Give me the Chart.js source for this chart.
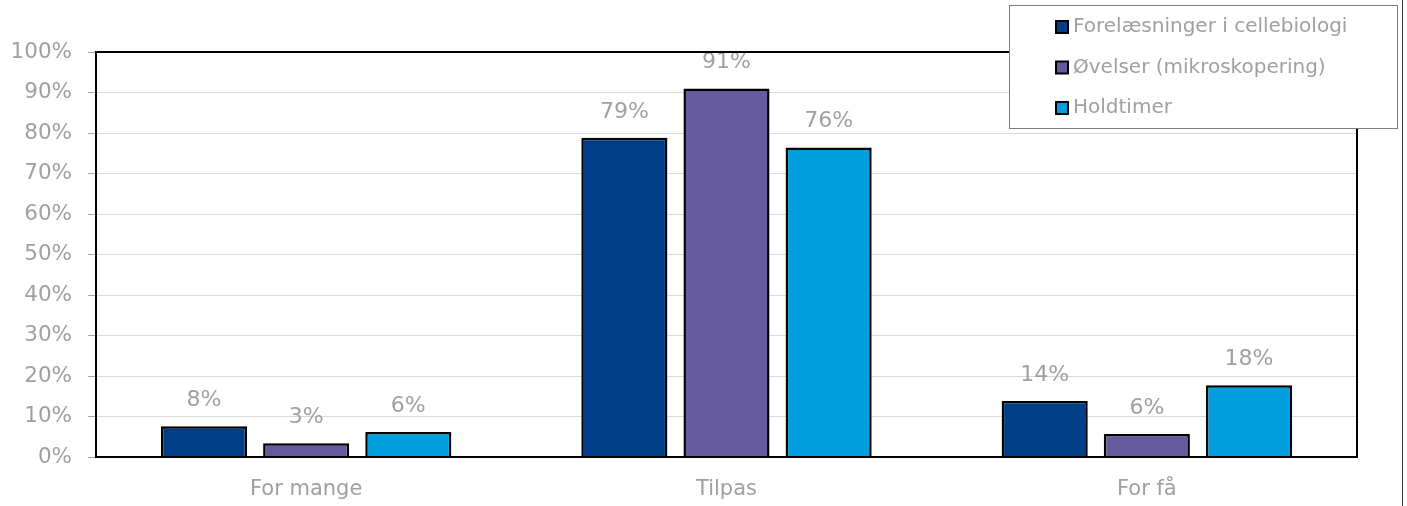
<!DOCTYPE html>
<html>
<head>
<meta charset="utf-8">
<script src="https://cdn.jsdelivr.net/npm/chart.js@4/dist/chart.umd.min.js"></script>
<style>
  html, body { margin: 0; padding: 0; background: #fff; }
  #wrap { width: 1407px; height: 506px; }
</style>
</head>
<body>
<div id="wrap"><canvas id="barCanvas"></canvas></div>
<script>
const barCanvas = document.getElementById("barCanvas");

var categories = ["For mange", "Tilpas", "For få"];
var seriesNames = ["Forelæsninger i cellebiologi", "Øvelser (mikroskopering)", "Holdtimer"];
var forelaesninger = [7.6, 78.8, 13.8];
var oevelser = [3.4, 91.0, 5.7];
var holdtimer = [6.2, 76.4, 17.7];
var yTicks = [0, 10, 20, 30, 40, 50, 60, 70, 80, 90, 100];

var barColors = ["#003F87", "#665A9E", "#009EDF"];
var textGray = "#a0a0a0";
var fontName = "'DejaVu Sans', sans-serif";

// value labels above bars, frame around plot, legend box on top
var extras = {
  id: "extras",
  afterDatasetsDraw(chart) {
    const ctx = chart.ctx;
    ctx.save();
    ctx.font = "22px " + fontName;
    ctx.fillStyle = textGray;
    ctx.textAlign = "center";
    ctx.textBaseline = "middle";
    chart.data.datasets.forEach((ds, i) => {
      chart.getDatasetMeta(i).data.forEach((bar, j) => {
        ctx.fillText(Math.round(ds.data[j]) + "%", bar.x, bar.y - 26);
      });
    });
    const a = chart.chartArea;
    ctx.strokeStyle = "#000";
    ctx.lineWidth = 2;
    ctx.strokeRect(a.left, a.top, a.right - a.left, a.bottom - a.top);
    ctx.restore();
  },
  afterDraw(chart) {
    const ctx = chart.ctx;
    ctx.save();
    // outer frame edge on the right
    ctx.strokeStyle = "#333";
    ctx.lineWidth = 1;
    ctx.beginPath();
    ctx.moveTo(1402.5, 0);
    ctx.lineTo(1402.5, 506);
    ctx.stroke();

    ctx.fillStyle = "#fff";
    ctx.fillRect(1009, 5, 388, 124);
    ctx.strokeStyle = "#7f7f7f";
    ctx.strokeRect(1009.5, 5.5, 388, 123);
    ctx.font = "20px " + fontName;
    ctx.textBaseline = "middle";
    ctx.textAlign = "left";
    chart.data.datasets.forEach((ds, i) => {
      const y = 27 + i * 40.5;
      ctx.fillStyle = ds.backgroundColor;
      ctx.fillRect(1056, y - 6, 12, 12);
      ctx.strokeStyle = "#000";
      ctx.lineWidth = 2;
      ctx.strokeRect(1056, y - 6, 12, 12);
      ctx.fillStyle = textGray;
      ctx.fillText(ds.label, 1073, y);
    });
    ctx.restore();
  }
};

new Chart(barCanvas, {
  type: "bar",
  data: {
    labels: categories,
    datasets: [
      { label: seriesNames[0], data: forelaesninger, backgroundColor: barColors[0] },
      { label: seriesNames[1], data: oevelser, backgroundColor: barColors[1] },
      { label: seriesNames[2], data: holdtimer, backgroundColor: barColors[2] }
    ]
  },
  options: {
    responsive: true,
    maintainAspectRatio: false,
    animation: false,
    layout: { padding: { top: 52, right: 50, left: 0, bottom: 0 } },
    datasets: {
      bar: {
        borderColor: "#000",
        borderWidth: 2.5,
        categoryPercentage: 0.729,
        barPercentage: 0.843
      }
    },
    plugins: {
      legend: { display: false },
      tooltip: { enabled: false }
    },
    scales: {
      x: {
        grid: { display: false, drawTicks: false, tickLength: 0 },
        border: { display: false },
        ticks: { color: textGray, font: { family: fontName, size: 21 }, padding: 20 },
        afterFit(scale) { scale.height = 49; }
      },
      y: {
        min: 0,
        max: 100,
        afterBuildTicks(scale) { scale.ticks = yTicks.map(v => ({ value: v })); },
        grid: { color: "#d9d9d9", lineWidth: 1, tickLength: 8, tickColor: "#a6a6a6" },
        border: { display: false },
        ticks: {
          color: textGray,
          font: { family: fontName, size: 21.5 },
          padding: 16,
          callback: v => v + "%"
        },
        afterFit(scale) { scale.width = 96; }
      }
    }
  },
  plugins: [extras]
});
</script>
</body>
</html>
